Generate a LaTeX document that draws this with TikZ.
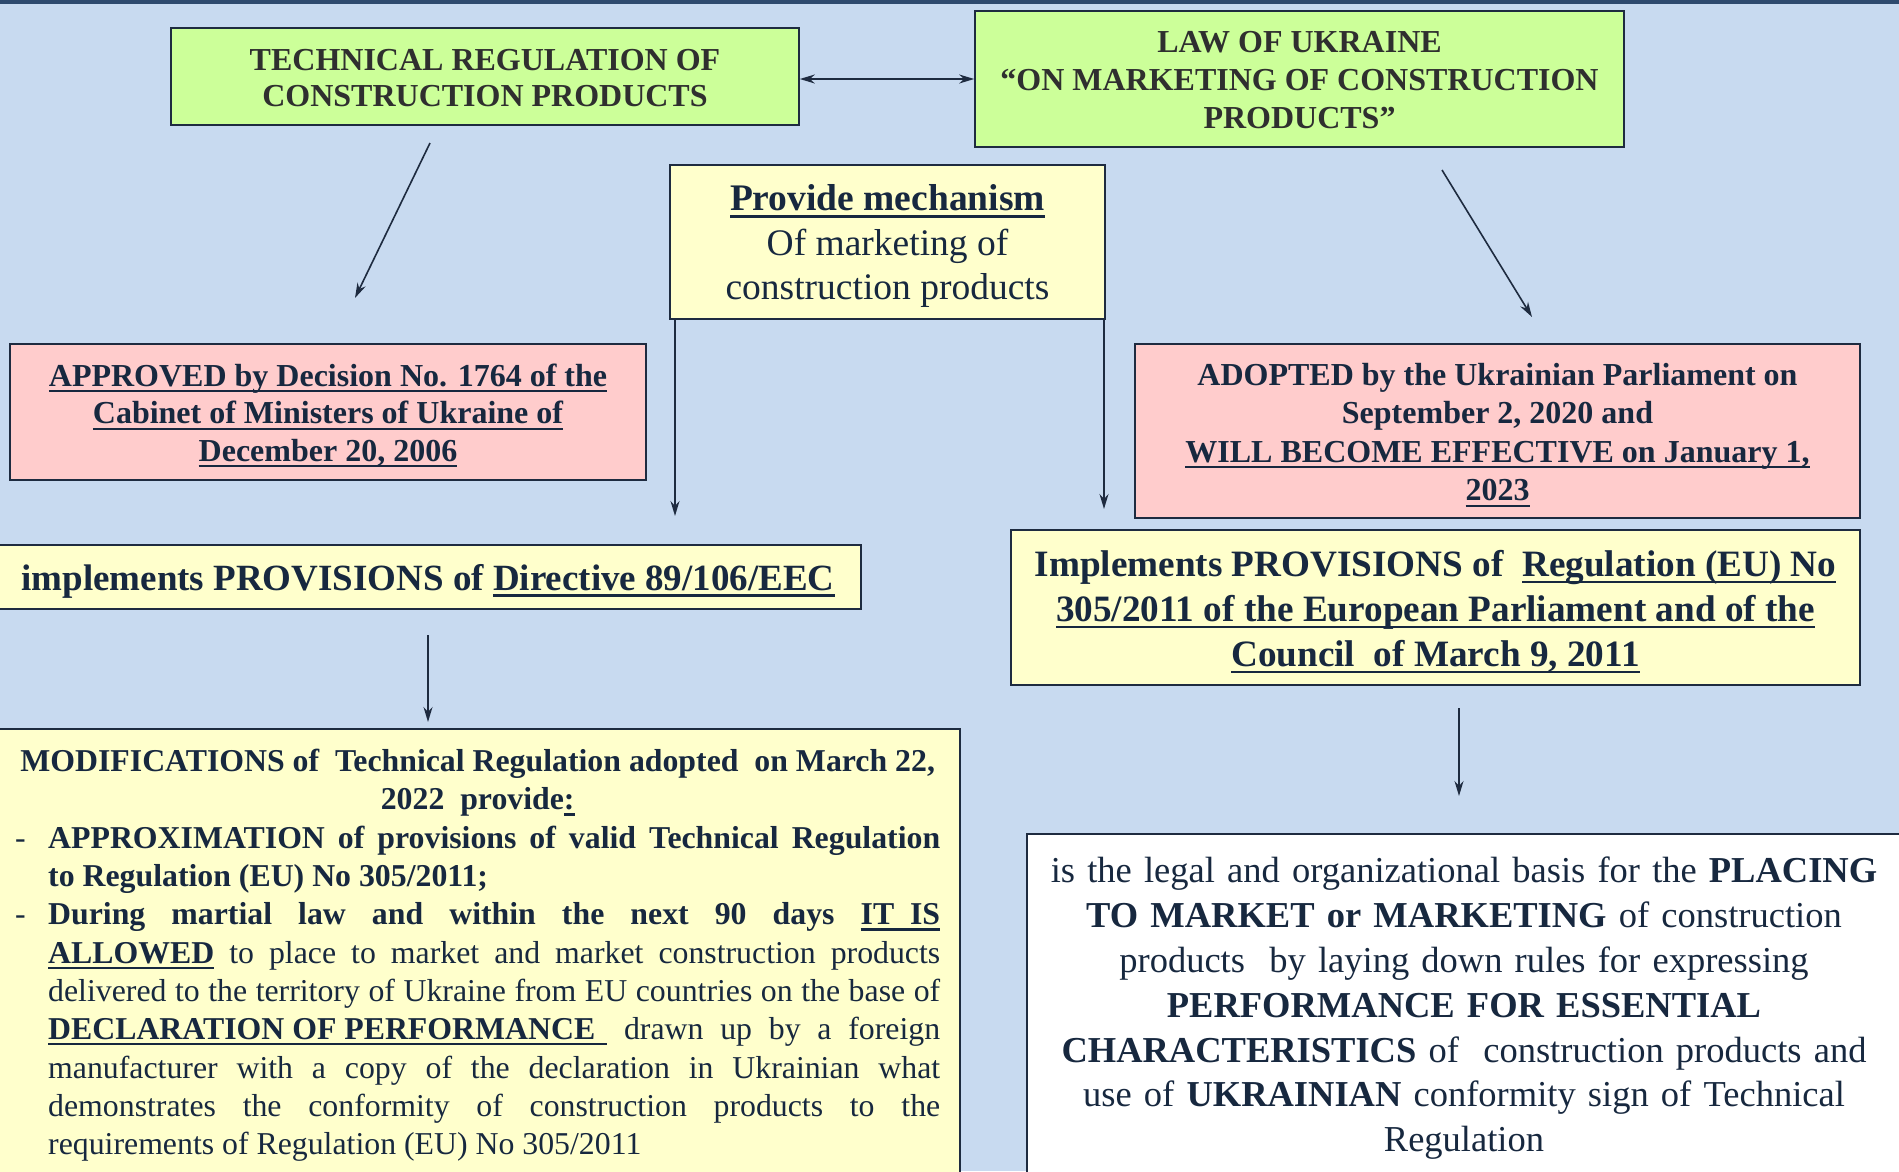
\documentclass[tikz,border=0pt]{standalone}
\usepackage{fontspec}
\setmainfont{Liberation Serif}
\usetikzlibrary{arrows.meta}
\definecolor{bg}{HTML}{C8DAF0}
\definecolor{topbar}{HTML}{2E4A6E}
\definecolor{grn}{HTML}{CCFF99}
\definecolor{pnk}{HTML}{FFCCCC}
\definecolor{ylw}{HTML}{FFFFCC}
\definecolor{edge}{HTML}{1E2B40}
\definecolor{txt}{HTML}{17283F}
\definecolor{gtxt}{HTML}{2F2F2F}
\newcommand\myul[1]{\leavevmode\setbox0=\hbox{#1}\rlap{\vrule width\wd0 height -0.11em depth 0.18em}\box0}
\newcommand\jl[1]{\hspace*{33pt}\makebox[892pt][s]{#1}}
\newcommand\dl[1]{\makebox[33pt][l]{-}\makebox[892pt][s]{#1}}
\begin{document}
\begin{tikzpicture}[x=1pt,y=-1pt,
  every node/.style={text=txt},
  boxbase/.style={draw=edge, line width=1.6pt, inner sep=0pt},
  greenbox/.style={boxbase, fill=grn},
  pinkbox/.style={boxbase, fill=pnk},
  yellowbox/.style={boxbase, fill=ylw},
  whitebox/.style={boxbase, fill=white},
  label/.style={inner sep=0pt, align=center},
  conn/.style={draw=edge, line width=1.6pt, -{Stealth[length=15pt,width=9pt]}},
  dconn/.style={draw=edge, line width=1.6pt, {Stealth[length=15pt,width=9pt]}-{Stealth[length=15pt,width=9pt]}}
]
\useasboundingbox (0,0) rectangle (1899,1171);
\clip (0,0) rectangle (1899,1171);
\fill[bg] (0,0) rectangle (1899,1171);
\fill[topbar] (0,0) rectangle (1899,4);

% top row
\node[greenbox, minimum width=628pt, minimum height=97pt] (tr) at (485,76.5) {};
\node[label, text=gtxt, font=\fontsize{32}{36}\selectfont\bfseries] (trt) at (485,77.7)
  {TECHNICAL REGULATION OF\\CONSTRUCTION PRODUCTS};
\node[greenbox, minimum width=649pt, minimum height=136pt] (law) at (1299.5,79) {};
\node[label, text=gtxt, font=\fontsize{32}{38}\selectfont\bfseries] (lawt) at (1299.5,80.2)
  {LAW OF UKRAINE\\“ON MARKETING OF CONSTRUCTION\\PRODUCTS”};
\node[yellowbox, minimum width=435pt, minimum height=154pt] (pm) at (887.5,242) {};
\node[label, font=\fontsize{37.5}{44.2}\selectfont] (pmt) at (887.5,246)
  {\textbf{\myul{Provide mechanism}}\\Of marketing of\\construction products};

% second row
\node[pinkbox, minimum width=636pt, minimum height=136pt] (appr) at (328,412) {};
\node[label, font=\fontsize{32}{37.5}\selectfont\bfseries] (apprt) at (328,415.6)
  {\myul{APPROVED by Decision No. 1764 of the}\\\myul{Cabinet of Ministers of Ukraine of}\\\myul{December 20, 2006}};
\node[pinkbox, minimum width=725pt, minimum height=174pt] (adop) at (1497.5,431) {};
\node[label, font=\fontsize{32}{38.5}\selectfont\bfseries] (adopt) at (1497.5,435)
  {ADOPTED by the Ukrainian Parliament on\\September 2, 2020 and\\\myul{WILL BECOME EFFECTIVE on January 1,}\\\myul{2023}};

% third row
\node[yellowbox, minimum width=866pt, minimum height=64pt] (dir) at (428,577) {};
\node[label, font=\fontsize{37}{42}\selectfont\bfseries] (dirt) at (428,581)
  {implements PROVISIONS of \myul{Directive 89/106/EEC}};
\node[yellowbox, minimum width=849pt, minimum height=155pt] (reg) at (1435.5,607.5) {};
\node[label, font=\fontsize{37.2}{45}\selectfont\bfseries] (regt) at (1435.5,612)
  {Implements PROVISIONS of\ \ \myul{Regulation (EU) No}\\\myul{305/2011 of the European Parliament and of the}\\\myul{Council\ \ of March 9, 2011}};

% bottom row
\node[yellowbox, minimum width=965pt, minimum height=451pt] (mod) at (477.5,954.5) {};
\node[anchor=north west, inner sep=0pt, align=left,
  font=\fontsize{31.8}{38.3}\selectfont] (modt) at (15,749)
  {\makebox[925pt]{\bfseries MODIFICATIONS of\ \ Technical Regulation adopted\ \ on March 22,}\\
   \makebox[925pt]{\bfseries 2022\ \ provide\myul{:}}\\
   \dl{\bfseries APPROXIMATION of provisions of valid Technical Regulation}\\
   \hspace*{33pt}{\bfseries to Regulation (EU) No 305/2011;}\\
   \dl{\bfseries During martial law and within the next 90 days \myul{IT\ \ IS}}\\
   \jl{\textbf{\myul{ALLOWED}} to place to market and market construction products}\\
   \jl{delivered to the territory of Ukraine from EU countries on the base of}\\
   \jl{\textbf{\myul{DECLARATION OF PERFORMANCE\kern12pt}} drawn up by a foreign}\\
   \jl{manufacturer with a copy of the declaration in Ukrainian what}\\
   \jl{demonstrates the conformity of construction products to the}\\
   \hspace*{33pt}requirements of Regulation (EU) No 305/2011};
\node[whitebox, minimum width=878pt, minimum height=346pt] (wb) at (1466,1007) {};
\node[anchor=north, text width=880pt, inner sep=0pt, align=center,
  font=\fontsize{36.5}{44.8}\selectfont] (wbt) at (1464,857)
  {is the legal and organizational basis for the \textbf{PLACING}\\
   \textbf{TO MARKET or MARKETING} of construction\\
   products\ \ by laying down rules for expressing\\
   \textbf{PERFORMANCE FOR ESSENTIAL}\\
   \textbf{CHARACTERISTICS} of\ \ construction products and\\
   use of \textbf{UKRAINIAN} conformity sign of Technical\\
   Regulation};

% connectors
\coordinate (a1s) at (430,143);
\coordinate (a1e) at (355,298);
\coordinate (a2s) at (1442,170);
\coordinate (a2e) at (1532,317);
\coordinate (p1e) at (675,516);
\coordinate (p2e) at (1104,509);
\coordinate (d1s) at (428,635);
\coordinate (d1e) at (428,722);
\coordinate (r1s) at (1459,708);
\coordinate (r1e) at (1459,796);

\draw[dconn] (tr.east |- law.west) -- (law.west);
\draw[conn] (a1s) -- (a1e);
\draw[conn] (a2s) -- (a2e);
\draw[conn] (pm.south west -| p1e) -- (p1e);
\draw[conn] (pm.south east -| p2e) -- (p2e);
\draw[conn] (d1s) -- (d1e);
\draw[conn] (r1s) -- (r1e);
\end{tikzpicture}
\end{document}
